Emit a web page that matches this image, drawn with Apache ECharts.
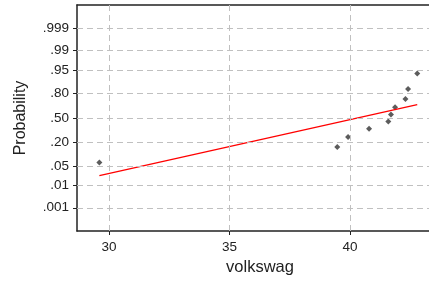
<!DOCTYPE html>
<html>
<head>
<meta charset="utf-8">
<script src="https://cdn.jsdelivr.net/npm/echarts@6/dist/echarts.min.js"></script>
<style>
  html, body { margin: 0; padding: 0; background: #fff; }
  #chart { width: 429px; height: 281px; }
</style>
</head>
<body>
<div id="chart"></div>
<script>
// observed values (volkswag) and their normal scores
var obsX = [29.6, 39.47, 39.92, 40.79, 41.59, 41.70, 41.87, 42.30, 42.41, 42.79];
var obsZ = [-1.53, -1.0, -0.65, -0.37, -0.12, 0.12, 0.37, 0.65, 1.0, 1.53];
// fitted reference line end points
var fitX = [29.6, 42.79];
var fitZ = [-1.98, 0.46];
// probability tick labels and their normal-score positions
var probLabels = [".001", ".01", ".05", ".20", ".50", ".80", ".95", ".99", ".999"];
var probZ = [-3.09, -2.326, -1.645, -0.842, 0, 0.842, 1.645, 2.326, 3.09];
var xTicks = [30, 35, 40];

var chart = echarts.init(document.getElementById("chart"));

var gridStyle = { color: "#c0c0c0", type: [6, 4], width: 1 };
var gridLines = [];
for (var i = 0; i < probZ.length; i++) gridLines.push({ yAxis: probZ[i] });
for (var j = 0; j < xTicks.length; j++) gridLines.push({ xAxis: xTicks[j] });

var fontFam = "Liberation Sans, Arial, sans-serif";
var labelFont = { color: "#222", fontSize: 13.5, fontFamily: fontFam };

chart.setOption({
  animation: false,
  grid: { left: 77, right: 0, top: 5, bottom: 46 },
  xAxis: [{
    type: "value",
    min: 28.672,
    max: 43.278,
    splitLine: { show: false },
    axisLine: { onZero: false, lineStyle: { color: "#222", width: 1.5 } },
    axisTick: { customValues: xTicks, length: 4, lineStyle: { color: "#222" } },
    axisLabel: Object.assign({ customValues: xTicks, margin: 9 }, labelFont),
    name: "volkswag",
    nameLocation: "middle",
    nameGap: 28,
    nameTextStyle: { fontSize: 16.5, color: "#222", fontFamily: fontFam, padding: [0, 0, 0, 14] }
  }, {
    type: "value",
    position: "top",
    min: 28.672,
    max: 43.278,
    splitLine: { show: false },
    axisLine: { onZero: false, lineStyle: { color: "#222", width: 1.5 } },
    axisTick: { show: false },
    axisLabel: { show: false }
  }],
  yAxis: {
    type: "value",
    min: -3.89,
    max: 3.89,
    splitLine: { show: false },
    axisLine: { onZero: false, lineStyle: { color: "#222", width: 1.5 } },
    axisTick: { customValues: probZ, length: 4, lineStyle: { color: "#222" } },
    axisLabel: Object.assign({
      customValues: probZ,
      margin: 8,
      formatter: function (v) {
        for (var k = 0; k < probZ.length; k++) {
          if (Math.abs(probZ[k] - v) < 1e-6) return probLabels[k];
        }
        return "";
      }
    }, labelFont),
    name: "Probability",
    nameLocation: "middle",
    nameGap: 48,
    nameTextStyle: { fontSize: 16, color: "#222", fontFamily: fontFam }
  },
  series: [{
    type: "line",
    data: [],
    silent: true,
    markLine: {
      silent: true,
      symbol: "none",
      label: { show: false },
      lineStyle: gridStyle,
      data: gridLines
    }
  }, {
    type: "line",
    data: fitX.map(function (x, k) { return [x, fitZ[k]]; }),
    showSymbol: false,
    lineStyle: { color: "#ff0000", width: 1.3 }
  }, {
    type: "scatter",
    data: obsX.map(function (x, k) { return [x, obsZ[k]]; }),
    symbol: "diamond",
    symbolSize: 6,
    itemStyle: { color: "#333" }
  }]
});
</script>
</body>
</html>
